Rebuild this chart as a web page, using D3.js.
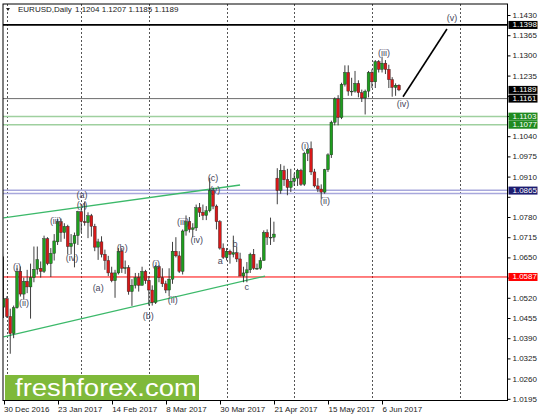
<!DOCTYPE html>
<html><head><meta charset="utf-8">
<script src="https://cdn.jsdelivr.net/npm/d3@7/dist/d3.min.js"></script>
<style>
body{margin:0;background:#fff}
svg{display:block}
text{font-family:"Liberation Sans",Arial,sans-serif}
</style>
</head><body>
<svg id="c" width="541" height="416"></svg>
<script>
// ---- data ----
const dates = ["2016-12-30","2017-01-02","2017-01-03","2017-01-04","2017-01-05","2017-01-06","2017-01-09","2017-01-10","2017-01-11","2017-01-12","2017-01-13","2017-01-16","2017-01-17","2017-01-18","2017-01-19","2017-01-20","2017-01-23","2017-01-24","2017-01-25","2017-01-26","2017-01-27","2017-01-30","2017-01-31","2017-02-01","2017-02-02","2017-02-03","2017-02-06","2017-02-07","2017-02-08","2017-02-09","2017-02-10","2017-02-13","2017-02-14","2017-02-15","2017-02-16","2017-02-17","2017-02-20","2017-02-21","2017-02-22","2017-02-23","2017-02-24","2017-02-27","2017-02-28","2017-03-01","2017-03-02","2017-03-03","2017-03-06","2017-03-07","2017-03-08","2017-03-09","2017-03-10","2017-03-13","2017-03-14","2017-03-15","2017-03-16","2017-03-17","2017-03-20","2017-03-21","2017-03-22","2017-03-23","2017-03-24","2017-03-27","2017-03-28","2017-03-29","2017-03-30","2017-03-31","2017-04-03","2017-04-04","2017-04-05","2017-04-06","2017-04-07","2017-04-10","2017-04-11","2017-04-12","2017-04-13","2017-04-14","2017-04-17","2017-04-18","2017-04-19","2017-04-20","2017-04-21","2017-04-24","2017-04-25","2017-04-26","2017-04-27","2017-04-28","2017-05-01","2017-05-02","2017-05-03","2017-05-04","2017-05-05","2017-05-08","2017-05-09","2017-05-10","2017-05-11","2017-05-12","2017-05-15","2017-05-16","2017-05-17","2017-05-18","2017-05-19","2017-05-22","2017-05-23","2017-05-24","2017-05-25","2017-05-26","2017-05-29","2017-05-30","2017-05-31","2017-06-01","2017-06-02","2017-06-05","2017-06-06","2017-06-07","2017-06-08","2017-06-09","2017-06-12","2017-06-13"];
const opens  = [1.0490,1.0517,1.0460,1.0405,1.0488,1.0605,1.0532,1.0573,1.0555,1.0585,1.0612,1.0615,1.0605,1.0710,1.0630,1.0663,1.0700,1.0765,1.0730,1.0750,1.0685,1.0695,1.0720,1.0797,1.0765,1.0762,1.0784,1.0750,1.0683,1.0700,1.0660,1.0640,1.0600,1.0575,1.0600,1.0670,1.0615,1.0617,1.0540,1.0560,1.0585,1.0560,1.0605,1.0575,1.0545,1.0505,1.0620,1.0585,1.0565,1.0545,1.0580,1.0670,1.0655,1.0605,1.0735,1.0765,1.0740,1.0745,1.0810,1.0795,1.0785,1.0800,1.0865,1.0815,1.0765,1.0680,1.0650,1.0670,1.0660,1.0665,1.0645,1.0590,1.0600,1.0610,1.0660,1.0615,1.0615,1.0640,1.0730,1.0715,1.0715,1.0905,1.0865,1.0930,1.0900,1.0875,1.0895,1.0905,1.0930,1.0885,1.0985,1.1000,1.0925,1.0880,1.0870,1.0860,1.0932,1.0980,1.1085,1.1160,1.1100,1.1207,1.1245,1.1185,1.1185,1.1210,1.1180,1.1163,1.1185,1.1245,1.1215,1.1280,1.1255,1.1275,1.1255,1.1222,1.1197,1.1204];
const highs  = [1.0653,1.0525,1.0485,1.0495,1.0615,1.0621,1.0585,1.0610,1.0630,1.0685,1.0685,1.0637,1.0720,1.0715,1.0680,1.0725,1.0775,1.0775,1.0760,1.0755,1.0725,1.0730,1.0800,1.0810,1.0829,1.0795,1.0790,1.0758,1.0710,1.0718,1.0675,1.0655,1.0620,1.0610,1.0680,1.0680,1.0640,1.0625,1.0580,1.0600,1.0600,1.0620,1.0610,1.0590,1.0560,1.0625,1.0625,1.0615,1.0575,1.0615,1.0700,1.0715,1.0670,1.0740,1.0785,1.0780,1.0760,1.0820,1.0825,1.0820,1.0815,1.0906,1.0875,1.0820,1.0770,1.0695,1.0680,1.0675,1.0720,1.0685,1.0665,1.0620,1.0635,1.0665,1.0677,1.0630,1.0650,1.0737,1.0740,1.0778,1.0765,1.0937,1.0950,1.0945,1.0935,1.0935,1.0920,1.0935,1.0935,1.0990,1.1000,1.1023,1.0935,1.0905,1.0885,1.0935,1.0985,1.1090,1.1165,1.1172,1.1212,1.1268,1.1268,1.1228,1.1250,1.1220,1.1190,1.1190,1.1250,1.1255,1.1285,1.1285,1.1296,1.1285,1.1270,1.1230,1.1210,1.1207];
const lows   = [1.0455,1.0455,1.0340,1.0390,1.0485,1.0524,1.0515,1.0535,1.0453,1.0570,1.0595,1.0585,1.0600,1.0625,1.0587,1.0640,1.0690,1.0700,1.0710,1.0660,1.0660,1.0618,1.0690,1.0730,1.0752,1.0712,1.0717,1.0670,1.0642,1.0650,1.0610,1.0590,1.0570,1.0520,1.0595,1.0600,1.0597,1.0530,1.0494,1.0550,1.0540,1.0560,1.0565,1.0495,1.0495,1.0500,1.0570,1.0555,1.0535,1.0525,1.0565,1.0650,1.0600,1.0595,1.0720,1.0730,1.0715,1.0735,1.0780,1.0770,1.0770,1.0795,1.0805,1.0740,1.0675,1.0645,1.0640,1.0630,1.0650,1.0635,1.0590,1.0570,1.0570,1.0600,1.0610,1.0610,1.0610,1.0640,1.0690,1.0690,1.0700,1.0821,1.0855,1.0880,1.0850,1.0860,1.0880,1.0880,1.0880,1.0880,1.0960,1.0915,1.0875,1.0860,1.0839,1.0855,1.0925,1.0970,1.1075,1.1075,1.1095,1.1200,1.1170,1.1170,1.1180,1.1165,1.1150,1.1110,1.1165,1.1195,1.1195,1.1245,1.1245,1.1240,1.1195,1.1167,1.1170,1.1185];
const closes = [1.0517,1.0460,1.0405,1.0488,1.0605,1.0532,1.0573,1.0555,1.0585,1.0612,1.0643,1.0605,1.0710,1.0630,1.0663,1.0703,1.0765,1.0730,1.0750,1.0685,1.0695,1.0720,1.0797,1.0765,1.0762,1.0784,1.0750,1.0683,1.0700,1.0660,1.0640,1.0600,1.0575,1.0600,1.0670,1.0615,1.0617,1.0540,1.0560,1.0585,1.0560,1.0605,1.0575,1.0545,1.0505,1.0620,1.0585,1.0565,1.0545,1.0580,1.0670,1.0655,1.0605,1.0735,1.0765,1.0740,1.0745,1.0810,1.0795,1.0785,1.0800,1.0865,1.0815,1.0765,1.0680,1.0650,1.0670,1.0660,1.0665,1.0645,1.0590,1.0600,1.0610,1.0660,1.0615,1.0615,1.0640,1.0730,1.0715,1.0715,1.0725,1.0865,1.0930,1.0900,1.0875,1.0895,1.0905,1.0930,1.0885,1.0985,1.0998,1.0925,1.0880,1.0870,1.0860,1.0932,1.0980,1.1085,1.1160,1.1100,1.1207,1.1245,1.1185,1.1185,1.1210,1.1180,1.1163,1.1185,1.1245,1.1215,1.1280,1.1255,1.1275,1.1255,1.1222,1.1197,1.1204,1.1189];

const xLabelText = ["30 Dec 2016","23 Jan 2017","14 Feb 2017","8 Mar 2017","30 Mar 2017","21 Apr 2017","15 May 2017","6 Jun 2017"];
const xLabelIdx  = [0,16,32,48,64,80,96,112];
const gridIdx    = [1,23,43,66,86,109,135];   // month starts (Jul 1 in future area)
const yTicks      = [1.1430,1.1365,1.1300,1.1235,1.1170,1.1105,1.1040,1.0975,1.0910,1.0845,1.0780,1.0715,1.0650,1.0585,1.0520,1.0455,1.0390,1.0325,1.0260,1.0195];
const yTicksHidden = [1.1170,1.1105,1.0585];   // covered by price tags
const yTicksPartly = [1.0845];                 // half covered by a price tag

const levelPrices = [1.1398,1.1161,1.1103,1.1077,1.0866,1.0856,1.0587];
const levelKinds  = ["black","gray","green","green","blue","blue","red"];
const tagPrices   = [1.1398,1.1189,1.1161,1.1103,1.1077,1.0865,1.0587];
const tagKinds    = ["black","black","black","green","green","navy","red"];

const upperChannel = [[0,1.0777],[70,1.0883]];
const lowerChannel = [[0,1.0394],[77.4,1.0590]];
const projection   = [[118.2,1.1167],[131.2,1.1385]];

const waveText  = ["(v)","(iii)","(iv)","(i)","(ii)","(c)","(v)","(a)","(v)","(iii)","(iv)","(i)","(ii)","(a)","(b)","(b)","(i)","(ii)","(iii)","(iv)","a","b","c"];
const waveIdx   = [132.7,112.6,118.2,89.2,95.1,62.0,62.6,23.2,23.2,15.5,20.3,4.0,6.1,28.0,35.1,42.8,45.1,50.1,53.1,57.2,64.1,68.5,72.0];
const wavePrice = [1.1420,1.1308,1.1144,1.1009,1.0832,1.0906,1.0867,1.0851,1.0819,1.0767,1.0648,1.0619,1.0503,1.0552,1.0680,1.0461,1.0629,1.0513,1.0764,1.0706,1.0638,1.0693,1.0555];

const header = "EURUSD,Daily";
const headerOHLC = "1.1204 1.1207 1.1185 1.1189";

// ---- drawing ----
const svg = d3.select("#c");
const L = 3, T = 4, R = 507.5, B = 400.5;
const x = d3.scaleLinear().domain([0, 117]).range([3.5, 3.5 + 117 * 3.38]);
const y = d3.scaleLinear().domain([1.0195, 1.1430]).range([398.8, 15]);
const fmt = d3.format(".4f");

const defs = svg.append("defs");
defs.append("clipPath").attr("id","clip")
  .append("rect").attr("x",L).attr("y",T).attr("width",R-L).attr("height",B-T);

const plot = svg.append("g").attr("clip-path","url(#clip)");

// vertical dotted grid
plot.selectAll("line.grid").data(gridIdx).join("line")
  .attr("x1", d => Math.round(x(d)) + 0.5).attr("x2", d => Math.round(x(d)) + 0.5)
  .attr("y1", T).attr("y2", B)
  .attr("stroke", "#555").attr("stroke-width", 1).attr("stroke-dasharray", "2,2");

// horizontal levels
const levelStyle = {
  black: {c:"#000", w:1.8},
  gray:  {c:"#6e6e6e", w:1},
  green: {c:"#9fd09f", w:1.5},
  blue:  {c:"#a8a8dc", w:1.5},
  red:   {c:"#ff0000", w:1}
};
plot.selectAll("line.level").data(levelPrices).join("line")
  .attr("x1", L).attr("x2", R)
  .attr("y1", d => y(d)).attr("y2", d => y(d))
  .attr("stroke", (d,i) => levelStyle[levelKinds[i]].c)
  .attr("stroke-width", (d,i) => levelStyle[levelKinds[i]].w);

// channel lines
const line = d3.line().x(d => x(d[0])).y(d => y(d[1]));
[upperChannel, lowerChannel].forEach(pts => {
  plot.append("path").attr("d", line(pts)).attr("fill","none")
    .attr("stroke","#3cb96a").attr("stroke-width",1.3);
});

// candles
const bars = d3.range(opens.length);
const bw = 2.8;
plot.selectAll("line.wick").data(bars).join("line")
  .attr("x1", i => x(i)).attr("x2", i => x(i))
  .attr("y1", i => y(highs[i])).attr("y2", i => y(lows[i]))
  .attr("stroke", "#2a2a2a").attr("stroke-width", 0.9);
plot.selectAll("rect.body").data(bars).join("rect")
  .attr("x", i => x(i) - bw/2).attr("width", bw)
  .attr("y", i => y(Math.max(opens[i], closes[i])))
  .attr("height", i => Math.max(0.8, Math.abs(y(opens[i]) - y(closes[i]))))
  .attr("fill", i => closes[i] >= opens[i] ? "#1e9e1e" : "#d81818")
  .attr("stroke", "#222").attr("stroke-width", 0.4);

// projection line
plot.append("path").attr("d", line(projection)).attr("fill","none")
  .attr("stroke","#000").attr("stroke-width",1.6);

// wave labels
plot.selectAll("text.wave").data(waveText).join("text")
  .attr("x", (d,i) => x(waveIdx[i])).attr("y", (d,i) => y(wavePrice[i]))
  .attr("text-anchor","middle").attr("dominant-baseline","central")
  .attr("font-size", 9).attr("fill", "#45455a")
  .text(d => d);

// banner
svg.append("rect").attr("x",5).attr("y",375).attr("width",194).attr("height",25).attr("fill","#7fb93a");
svg.append("text").attr("x",15).attr("y",396).attr("font-family","'Open Sans',sans-serif")
  .attr("font-size",23).attr("fill","#fff").attr("textLength",182).attr("lengthAdjust","spacingAndGlyphs")
  .text("freshforex.com");

// frame
svg.append("rect").attr("x",L).attr("y",T).attr("width",R-L).attr("height",B-T)
  .attr("fill","none").attr("stroke","#000").attr("stroke-width",1);

// header
svg.append("path").attr("d","M6,8 L10,8 L8,11 Z").attr("fill","#222");
svg.append("text").attr("x",18).attr("y",12).attr("font-size",8).attr("fill","#222").text(header);
svg.append("text").attr("x",75).attr("y",12).attr("font-size",8).attr("fill","#222").text(headerOHLC);

// right axis (labels hidden by price tags are not drawn)
const yAxis = d3.axisRight(y).tickValues(yTicks).tickSize(3).tickPadding(2)
  .tickFormat(d => yTicksHidden.includes(d) ? "" : fmt(d));
const ga = svg.append("g").attr("transform", `translate(${R},0)`).call(yAxis);
ga.select(".domain").remove();
ga.selectAll("text").attr("font-size", 8).attr("fill","#222").attr("font-family","'Liberation Sans',Arial,sans-serif");
ga.selectAll("line").attr("stroke","#000");

// tick label that is half hidden by the 1.0865 tag: show only its lower part
defs.append("clipPath").attr("id","partclip")
  .append("rect").attr("x", R).attr("y", y(1.0865) + 4).attr("width", 40).attr("height", 20);
ga.selectAll(".tick").filter(d => yTicksPartly.includes(d)).select("text")
  .attr("clip-path","url(#partclip)")
  .attr("transform", `translate(0,0)`);

// price tags
const tagFill = {black:"#000", green:"#1f8a1f", navy:"#1c1c70", red:"#ff0000"};
const tags = svg.append("g");
tagPrices.forEach((p, i) => {
  const yy = y(p);
  tags.append("rect").attr("x", R + 1).attr("y", yy - 4).attr("width", 29).attr("height", 8)
    .attr("fill", tagFill[tagKinds[i]]);
  tags.append("text").attr("x", R + 5).attr("y", yy).attr("dominant-baseline","central")
    .attr("font-size", 8).attr("fill","#fff").text(fmt(p));
});

// bottom axis
const gx = svg.append("g");
gx.selectAll("line").data(xLabelIdx).join("line")
  .attr("x1", d => Math.round(x(d)) + 0.5).attr("x2", d => Math.round(x(d)) + 0.5)
  .attr("y1", B).attr("y2", B + 4).attr("stroke","#000");
gx.selectAll("text").data(xLabelText).join("text")
  .attr("x", (d,i) => x(xLabelIdx[i]) + 0.5).attr("y", 412)
  .attr("font-size", 8).attr("fill","#222").text(d => d);
</script>
</body></html>
